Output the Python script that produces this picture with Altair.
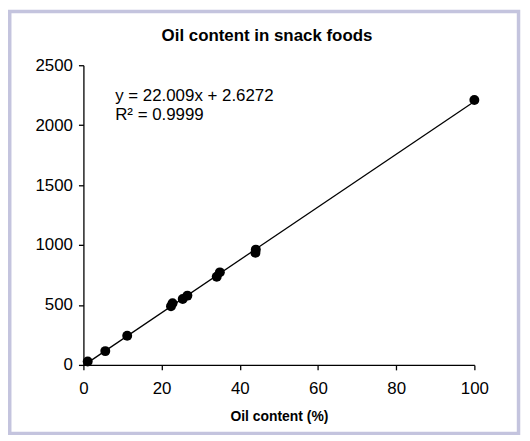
import altair as alt
import pandas as pd

oil_pct = [1.1, 5.6, 11.2, 22.4, 22.8, 25.4, 26.6, 34.1, 34.9, 44.0, 44.1, 100.0]
signal = [28, 115, 243, 490, 515, 550, 578, 735, 772, 935, 962, 2210]
x_ticks = [0, 20, 40, 60, 80, 100]
y_ticks = [0, 500, 1000, 1500, 2000, 2500]
title_text = "Oil content in snack foods"
eq_lines = ["y = 22.009x + 2.6272", "R\u00b2 = 0.9999"]

df = pd.DataFrame({"oil": oil_pct, "val": signal})
FONT = "Liberation Sans"

xs = alt.Scale(domain=[0, 100], nice=False)
ys = alt.Scale(domain=[0, 2500], nice=False)

base = alt.Chart(df)

points = base.mark_circle(color="black", opacity=1, size=100).encode(
    x=alt.X("oil:Q", scale=xs, axis=alt.Axis(values=x_ticks, title="Oil content (%)",
                                             format="d", labelPadding=11, titleY=56,
                                             titleBaseline="alphabetic", labelFlush=False)),
    y=alt.Y("val:Q", scale=ys, axis=alt.Axis(values=y_ticks, title=None, format="d",
                                             labelPadding=6, labelFlush=False)),
)

trend = base.transform_regression("oil", "val", extent=[0, 100]).mark_line(
    color="black", strokeWidth=1.3
).encode(x=alt.X("oil:Q", scale=xs), y=alt.Y("val:Q", scale=ys))

one = alt.Data(values=[{}])

title = alt.Chart(one).mark_text(
    text=title_text, align="center", baseline="alphabetic", fontSize=17,
    fontWeight="bold", font=FONT, color="black"
).encode(x=alt.value(185), y=alt.value(-24))

eq1 = alt.Chart(one).mark_text(
    text=eq_lines[0], align="left", baseline="alphabetic", fontSize=17, font=FONT, color="black"
).encode(x=alt.value(32), y=alt.value(36))
eq2 = alt.Chart(one).mark_text(
    text=eq_lines[1], align="left", baseline="alphabetic", fontSize=17, font=FONT, color="black"
).encode(x=alt.value(32), y=alt.value(55))

frame = alt.Chart(one).mark_rect(
    fillOpacity=0, stroke="#c4c4de", strokeWidth=3.5
).encode(x=alt.value(-74.25), x2=alt.value(438.5), y=alt.value(-54.25), y2=alt.value(371))

chart = alt.layer(frame, trend, points, title, eq1, eq2).properties(
    width=394, height=302,
    autosize=alt.AutoSizeParams(type="none"),
    padding={"left": 76, "top": 56, "right": 48, "bottom": 74},
    background="white",
).configure_view(stroke=None).configure_axis(
    grid=False, domainColor="black", domainWidth=1.3, tickColor="black", tickWidth=1.3,
    tickSize=5, labelFont=FONT, labelFontSize=17, labelColor="black",
    titleFont=FONT, titleFontSize=14, titleFontWeight="bold", titleColor="black",
)

chart.save("out.html", embed_options={"renderer": "svg", "actions": False})
